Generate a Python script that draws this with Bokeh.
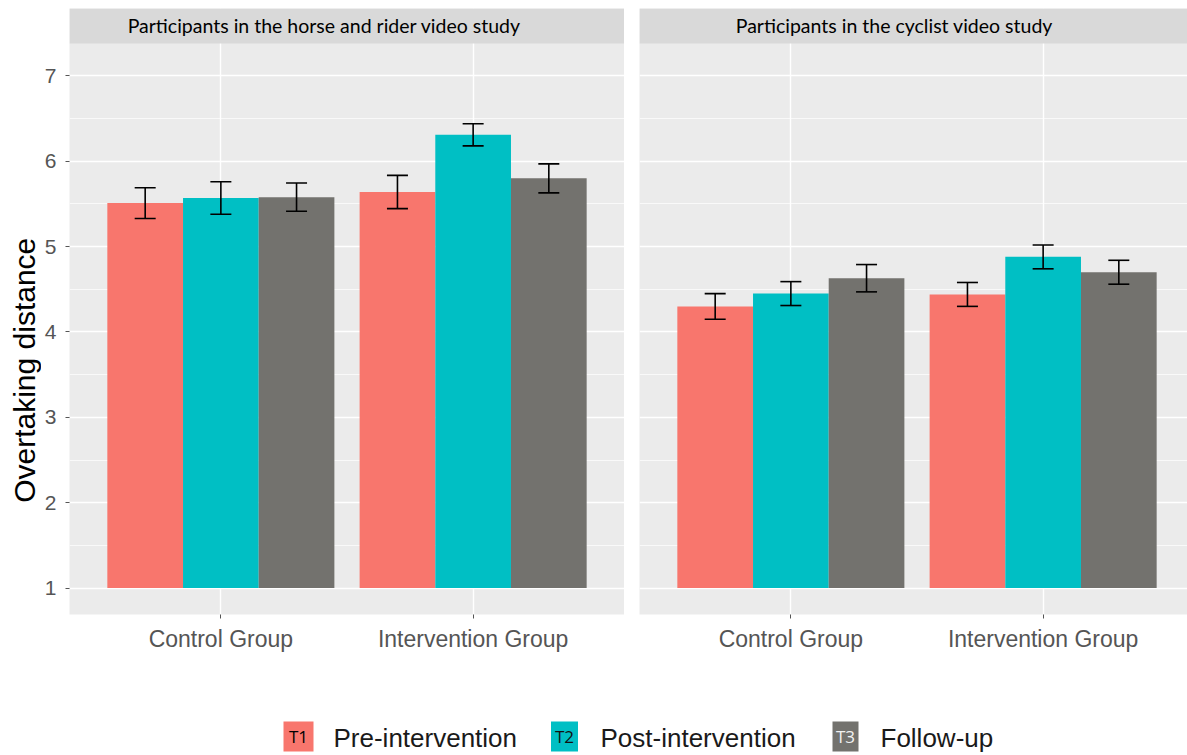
import numpy as np
from bokeh.plotting import figure
from bokeh.models import (ColumnDataSource, Range1d, FixedTicker, Whisker, TeeHead,
                          BoxAnnotation, Label)
from bokeh.layouts import column, row
from bokeh.transform import dodge
from bokeh.core.properties import value
from bokeh.embed import file_html
from bokeh.resources import INLINE

# ---- data -------------------------------------------------------------
groups = ["Control Group", "Intervention Group"]
times = ["T1", "T2", "T3"]
time_labels = ["Pre-intervention", "Post-intervention", "Follow-up"]
time_colors = ["#F8766D", "#00BFC4", "#73726E"]
panel_titles = ["Participants in the horse and rider video study",
                "Participants in the cyclist video study"]
y_title = "Overtaking distance"

# mean overtaking distance per group (Control, Intervention) and time point
horse_t1 = [5.51, 5.64]
horse_t2 = [5.57, 6.31]
horse_t3 = [5.58, 5.80]
# half-length of the error bars
horse_t1_err = [0.18, 0.195]
horse_t2_err = [0.19, 0.13]
horse_t3_err = [0.165, 0.17]

cyclist_t1 = [4.30, 4.44]
cyclist_t2 = [4.45, 4.88]
cyclist_t3 = [4.63, 4.70]
cyclist_t1_err = [0.15, 0.14]
cyclist_t2_err = [0.14, 0.14]
cyclist_t3_err = [0.16, 0.14]

y_ticks = [1, 2, 3, 4, 5, 6, 7]
baseline = 1

# ---- styling ----------------------------------------------------------
PANEL_BG = "#EBEBEB"
STRIP_BG = "#D9D9D9"
AXIS_TEXT = "#555555"
BAR_W = 0.3
FONT = "Liberation Sans"
FIG_H = 660
TITLE_W = 41  # width of the strip holding the rotated y title

Y_LO, Y_PANEL_TOP, Y_HI = 0.69, 7.38, 7.79
PANEL_PX = 555  # width of one full facet in pixels


def make_panel(means, errs, title, fig_width, border_left, frame_width, show_y):
    x_end = 0.4 + 2.2 * frame_width / PANEL_PX
    p = figure(width=fig_width, height=FIG_H,
               x_range=Range1d(0.4, x_end), y_range=Range1d(Y_LO, Y_HI),
               min_border_left=border_left, min_border_right=0,
               min_border_top=8, min_border_bottom=46,
               toolbar_location=None, output_backend="svg",
               y_axis_location="left" if show_y else None)
    p.background_fill_color = PANEL_BG
    p.border_fill_color = "white"
    p.outline_line_color = None

    gpos = list(range(1, len(groups) + 1))
    offsets = [-BAR_W, 0.0, BAR_W]
    for mean, err, color, off in zip(means, errs, time_colors, offsets):
        m = np.array(mean)
        e = np.array(err)
        src = ColumnDataSource(dict(gx=gpos, mean=m, lo=m - e, hi=m + e))
        p.vbar(x=dodge("gx", off), top="mean", bottom=baseline, width=BAR_W,
               source=src, fill_color=color, line_color=None)
        wk = Whisker(base=dodge("gx", off), upper="hi", lower="lo", source=src,
                     line_color="black", line_width=1.6, level="annotation",
                     upper_head=TeeHead(size=21, line_color="black", line_width=1.6),
                     lower_head=TeeHead(size=21, line_color="black", line_width=1.6))
        p.add_layout(wk)

    # grid
    p.xgrid.ticker = FixedTicker(ticks=gpos)
    p.ygrid.ticker = FixedTicker(ticks=y_ticks,
                                 minor_ticks=[t + 0.5 for t in y_ticks[:-1]])
    p.xgrid.grid_line_color = "white"
    p.xgrid.grid_line_width = 1.4
    p.ygrid.grid_line_color = "white"
    p.ygrid.grid_line_width = 1.4
    p.ygrid.minor_grid_line_color = "white"
    p.ygrid.minor_grid_line_width = 0.7

    # x axis
    xa = p.xaxis[0]
    xa.ticker = FixedTicker(ticks=gpos)
    xa.major_label_overrides = {i: g for i, g in zip(gpos, groups)}
    xa.axis_line_color = None
    xa.major_tick_in = 0
    xa.major_tick_out = 4
    xa.major_tick_line_color = AXIS_TEXT
    xa.minor_tick_line_color = None
    xa.major_label_standoff = 7
    xa.major_label_text_font = FONT
    xa.major_label_text_font_size = "23px"
    xa.major_label_text_color = AXIS_TEXT

    if show_y:
        ya = p.yaxis[0]
        ya.ticker = FixedTicker(ticks=y_ticks)
        ya.axis_line_color = None
        ya.major_tick_in = 0
        ya.major_tick_out = 4
        ya.major_tick_line_color = AXIS_TEXT
        ya.minor_tick_line_color = None
        ya.major_label_standoff = 9
        ya.major_label_text_font = FONT
        ya.major_label_text_font_size = "21px"
        ya.major_label_text_color = AXIS_TEXT

    # facet strip
    p.add_layout(BoxAnnotation(bottom=Y_PANEL_TOP, fill_color=STRIP_BG, fill_alpha=1.0,
                               line_color=None))
    p.add_layout(Label(x=1.41, y=(Y_PANEL_TOP + Y_HI) / 2, text=title,
                       text_align="center", text_baseline="middle",
                       text_font="Lato", text_font_size="19.5px", text_color="black"))
    return p


# narrow strip on the left carrying the rotated y-axis title
ytitle = figure(width=TITLE_W, height=FIG_H, x_range=Range1d(0, TITLE_W),
                y_range=Range1d(0, FIG_H), min_border=0, toolbar_location=None,
                output_backend="svg")
ytitle.axis.visible = False
ytitle.grid.visible = False
ytitle.outline_line_color = None
ytitle.text(x=[24], y=[266], text=[y_title], angle=np.pi / 2, text_align="center",
            text_baseline="middle", text_font=value(FONT), text_font_size="30px",
            text_color="black")

p1 = make_panel([horse_t1, horse_t2, horse_t3],
                [horse_t1_err, horse_t2_err, horse_t3_err],
                panel_titles[0], fig_width=624 - TITLE_W, border_left=69 - TITLE_W,
                frame_width=555, show_y=True)
p2 = make_panel([cyclist_t1, cyclist_t2, cyclist_t3],
                [cyclist_t1_err, cyclist_t2_err, cyclist_t3_err],
                panel_titles[1], fig_width=563, border_left=15, frame_width=548,
                show_y=False)

# ---- legend strip along the bottom ------------------------------------
leg = figure(width=1187, height=95, x_range=Range1d(0, 1187), y_range=Range1d(95, 0),
             min_border=0, toolbar_location=None, output_backend="svg")
leg.axis.visible = False
leg.grid.visible = False
leg.outline_line_color = None
leg.background_fill_color = "white"

key_x = [298, 564, 845]
key_w = [30, 27, 26]
text_x = [333, 600, 880]
key_y = 76
key_text_colors = ["black", "#111111", "#f2f2f2"]
leg.rect(x=key_x, y=key_y, width=key_w, height=30, fill_color=time_colors, line_color=None)
leg.text(x=key_x, y=key_y, text=times, text_align="center", text_baseline="middle",
         text_font=value("Open Sans"), text_font_size="17px", text_color=key_text_colors)
leg.text(x=text_x, y=key_y + 1, text=time_labels, text_align="left", text_baseline="middle",
         text_font=value(FONT), text_font_size="26px", text_color="#1a1a1a")

layout = column(row(ytitle, p1, p2), leg)

with open("out.html", "w") as f:
    f.write(file_html(layout, INLINE))
